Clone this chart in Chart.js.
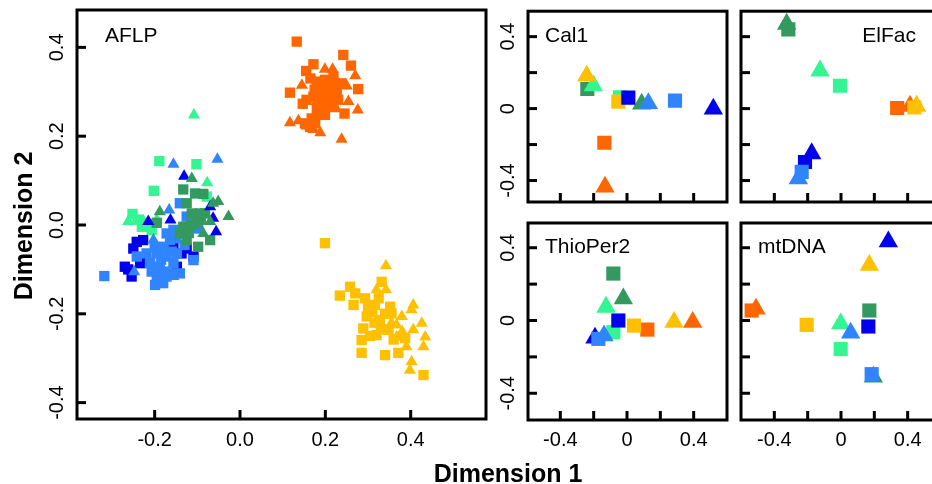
<!DOCTYPE html>
<html><head><meta charset="utf-8">
<script src="https://cdn.jsdelivr.net/npm/chart.js@4.4.0/dist/chart.umd.min.js"></script>
<style>
html,body{margin:0;padding:0;background:#fff;width:932px;height:484px;overflow:hidden;position:relative;}
canvas{position:absolute;left:0;top:0;}
</style></head><body>
<canvas id="cAFLP" width="960" height="484"></canvas>
<canvas id="cCal1" width="960" height="484"></canvas>
<canvas id="cElFac" width="960" height="484"></canvas>
<canvas id="cThio" width="960" height="484"></canvas>
<canvas id="cMt" width="960" height="484"></canvas>
<script>
// ---------- series (population x marker) ----------
const seriesKeys   = ['orangeSq','orangeTri','goldSq','goldTri','ltGreenSq','ltGreenTri','dkGreenSq','dkGreenTri','blueSq','blueTri','dodgerSq','dodgerTri'];
const seriesColors = ['#FF6600','#FF6600','#FFC000','#FFC000','#33F591','#33F591','#33995F','#33995F','#0000EE','#0000EE','#3085FF','#3085FF'];
const seriesShapes = ['rect','triangle','rect','triangle','rect','triangle','rect','triangle','rect','triangle','rect','triangle'];

// ---------- AFLP panel values [dim1, dim2] ----------
const aflpOrangeSq = [[0.133,0.413],[0.242,0.383],[0.260,0.359],[0.172,0.362],[0.155,0.347],[0.117,0.298],[0.277,0.306],[0.147,0.273],[0.245,0.251],[0.188,0.248],[0.164,0.221],[0.152,0.229],[0.180,0.323],[0.199,0.327],[0.219,0.319],[0.207,0.308],[0.227,0.300],[0.188,0.300],[0.172,0.289],[0.211,0.285],[0.230,0.282],[0.195,0.274],[0.219,0.267],[0.180,0.259],[0.199,0.248],[0.168,0.240],[0.238,0.319],[0.219,0.334],[0.156,0.282],[0.176,0.229],[0.205,0.290],[0.192,0.315],[0.200,0.300],[0.213,0.305],[0.185,0.285],[0.225,0.290],[0.195,0.262],[0.175,0.305],[0.165,0.330],[0.208,0.270]];
const aflpOrangeTri = [[0.199,0.351],[0.217,0.351],[0.145,0.315],[0.270,0.336],[0.250,0.313],[0.254,0.278],[0.276,0.259],[0.117,0.230],[0.137,0.235],[0.156,0.223],[0.188,0.208],[0.238,0.193],[0.180,0.278],[0.172,0.215],[0.225,0.262]];
const aflpGoldSq = [[0.199,-0.041],[0.332,-0.128],[0.258,-0.139],[0.234,-0.159],[0.270,-0.154],[0.293,-0.165],[0.266,-0.180],[0.316,-0.180],[0.352,-0.184],[0.297,-0.206],[0.328,-0.214],[0.289,-0.233],[0.320,-0.248],[0.348,-0.236],[0.285,-0.259],[0.285,-0.288],[0.340,-0.293],[0.371,-0.288],[0.430,-0.338],[0.387,-0.255],[0.355,-0.199],[0.310,-0.196],[0.305,-0.250],[0.360,-0.258],[0.330,-0.235],[0.315,-0.220],[0.300,-0.185],[0.340,-0.200],[0.325,-0.165]];
const aflpGoldTri = [[0.342,-0.092],[0.320,-0.146],[0.342,-0.146],[0.406,-0.180],[0.402,-0.191],[0.379,-0.206],[0.426,-0.221],[0.367,-0.225],[0.406,-0.236],[0.434,-0.252],[0.430,-0.274],[0.390,-0.274],[0.367,-0.252],[0.402,-0.308],[0.398,-0.327],[0.380,-0.240],[0.355,-0.220]];
const aflpLtGreenSq = [[-0.189,0.144],[-0.102,0.137],[-0.202,0.077],[-0.252,0.025],[-0.230,-0.004],[-0.207,-0.011],[-0.078,0.064],[-0.240,0.012],[-0.218,0.002]];
const aflpLtGreenTri = [[-0.108,0.248],[-0.077,0.095],[-0.262,0.008],[-0.227,0.010],[-0.195,0.011]];
const aflpDkGreenSq = [[-0.133,0.080],[-0.105,0.071],[-0.086,0.070],[-0.125,0.049],[-0.094,0.026],[-0.082,0.026],[-0.141,-0.019],[-0.125,-0.034],[-0.098,-0.049],[-0.070,-0.034],[-0.102,0.004],[-0.195,0.005],[-0.113,0.026],[-0.133,-0.004],[-0.115,0.000],[-0.092,0.012],[-0.120,-0.018]];
const aflpDkGreenTri = [[-0.113,0.105],[-0.188,0.030],[-0.051,0.053],[-0.027,0.019],[-0.063,0.049],[-0.070,0.008],[-0.086,-0.019]];
const aflpBlueSq = [[-0.250,-0.053],[-0.270,-0.094],[-0.254,-0.116],[-0.227,-0.034],[-0.242,-0.038],[-0.137,-0.064],[-0.156,-0.041],[-0.109,-0.071],[-0.125,-0.053],[-0.148,-0.094],[-0.234,-0.086],[-0.262,-0.100]];
const aflpBlueTri = [[-0.131,0.110],[-0.215,0.008],[-0.056,-0.015],[-0.070,0.041],[-0.063,0.015],[-0.163,0.011]];
const aflpDodgerSq = [[-0.318,-0.115],[-0.141,0.049],[-0.098,-0.008],[-0.109,-0.079],[-0.211,-0.086],[-0.195,-0.064],[-0.180,-0.049],[-0.164,-0.034],[-0.172,-0.071],[-0.156,-0.086],[-0.188,-0.094],[-0.195,-0.116],[-0.180,-0.131],[-0.199,-0.135],[-0.164,-0.109],[-0.148,-0.064],[-0.219,-0.064],[-0.172,-0.019],[-0.156,-0.011],[-0.125,0.019],[-0.137,-0.019],[-0.242,-0.071],[-0.207,-0.105],[-0.141,-0.109],[-0.172,-0.116],[-0.185,-0.078],[-0.160,-0.060],[-0.200,-0.050],[-0.150,-0.030],[-0.178,-0.105],[-0.130,-0.045]];
const aflpDodgerTri = [[-0.156,0.137],[-0.053,0.148],[-0.166,0.034],[-0.248,-0.105],[-0.203,-0.034],[-0.156,-0.116]];

// ---------- single-locus panels: one point per series, order = seriesKeys ----------
const cal1X  = [-0.136,-0.132,-0.052,-0.242,-0.042,-0.202,-0.238, 0.088, 0.008, 0.518, 0.288, 0.128];
const cal1Y  = [-0.190,-0.435, 0.039, 0.182, 0.063, 0.127, 0.109, 0.026, 0.061,-0.002, 0.044, 0.029];
const elfacX = [ 0.337, 0.414, 0.440, 0.454,-0.006,-0.126,-0.316,-0.326,-0.216,-0.176,-0.236,-0.256];
const elfacY = [ 0.003, 0.014, 0.006, 0.014, 0.127, 0.210, 0.440, 0.470,-0.297,-0.250,-0.352,-0.389];
const thioX  = [ 0.122, 0.394, 0.042, 0.282,-0.082,-0.126,-0.082,-0.022,-0.052,-0.192,-0.172,-0.138];
const thioY  = [-0.050,-0.009,-0.028,-0.009,-0.064, 0.074, 0.258, 0.120, 0.000,-0.096,-0.101,-0.083];
const mtX    = [-0.536,-0.510,-0.206, 0.170,-0.002,-0.002, 0.170, 0.194, 0.164, 0.284, 0.184, 0.058];
const mtY    = [ 0.055, 0.064,-0.024, 0.304,-0.157,-0.018, 0.055,-0.310,-0.033, 0.433,-0.295,-0.068];

// ---------- ticks ----------
const mainXTicks = [-0.2,0.0,0.2,0.4];
const mainXLabels = ['-0.2','0.0','0.2','0.4'];
const mainYTicks = [0.4,0.2,0.0,-0.2,-0.4];
const mainYLabels = ['0.4','0.2','0.0','-0.2','-0.4'];
const smallTicks = [-0.4,-0.2,0,0.2,0.4];
const smallLabelVals = [-0.4,0,0.4];
const smallLabels = ['-0.4','0','0.4'];

// drawing order, bottom to top
const smallDrawOrder = ['dkGreenSq','dkGreenTri','ltGreenSq','ltGreenTri','orangeSq','orangeTri','goldSq','goldTri','blueSq','blueTri','dodgerSq','dodgerTri'];
const mainDrawOrder  = ['ltGreenSq','ltGreenTri','blueSq','dodgerSq','dkGreenSq','blueTri','dodgerTri','dkGreenTri','orangeSq','orangeTri','goldSq','goldTri'];

const FONT = '"Liberation Sans", Arial, Helvetica, sans-serif';
const CW = 960, CH = 484;

function frame(cfg){
  return {
    id:'frame',
    afterDraw(chart){
      const ctx = chart.ctx, a = chart.chartArea, xs = chart.scales.x, ys = chart.scales.y;
      ctx.save();
      ctx.strokeStyle = '#000'; ctx.lineWidth = 3; ctx.lineCap = 'butt';
      ctx.strokeRect(a.left, a.top, a.right - a.left, a.bottom - a.top);
      cfg.xTicks.forEach(v => { const p = xs.getPixelForValue(v); ctx.beginPath(); ctx.moveTo(p, a.bottom); ctx.lineTo(p, a.bottom - 9); ctx.stroke(); });
      cfg.yTicks.forEach(v => { const p = ys.getPixelForValue(v); ctx.beginPath(); ctx.moveTo(a.left, p); ctx.lineTo(a.left + 9, p); ctx.stroke(); });
      ctx.fillStyle = '#000';
      ctx.font = '20px ' + FONT;
      if (cfg.xLabels) {
        ctx.textAlign = 'center'; ctx.textBaseline = 'middle';
        cfg.xLabelVals.forEach((v,i) => ctx.fillText(cfg.xLabels[i], xs.getPixelForValue(v), 440));
      }
      if (cfg.yLabels) {
        cfg.yLabelVals.forEach((v,i) => {
          ctx.save(); ctx.translate(a.left - 20, ys.getPixelForValue(v)); ctx.rotate(-Math.PI/2);
          ctx.textAlign = 'center'; ctx.textBaseline = 'middle';
          ctx.fillText(cfg.yLabels[i], 0, 0); ctx.restore();
        });
      }
      ctx.font = '21px ' + FONT; ctx.textBaseline = 'alphabetic';
      ctx.textAlign = cfg.titleAlign || 'left';
      ctx.fillText(cfg.title, cfg.titleX, cfg.titleY);
      if (cfg.extra) cfg.extra(ctx);
      ctx.restore();
    }
  };
}

function makeDatasets(pointsByKey, order, rSq, rTri){
  return order.slice().reverse().map((k, idx) => {
    const i = seriesKeys.indexOf(k);
    return {
      label: k,
      data: pointsByKey[k].map(p => ({x:p[0], y:p[1]})),
      pointStyle: seriesShapes[i],
      pointRadius: seriesShapes[i] === 'rect' ? rSq : rTri,
      backgroundColor: seriesColors[i],
      borderWidth: 0,
      borderColor: seriesColors[i],
      clip: {left:0, top:0, right:0, bottom:0}
    };
  });
}

function makePanel(id, box, xr, yr, datasets, cfg){
  new Chart(document.getElementById(id), {
    type: 'scatter',
    data: { datasets },
    options: {
      responsive: false, animation: false, devicePixelRatio: 1,
      events: [],
      layout: { padding: { left: box[0], top: box[1], right: CW - box[2], bottom: CH - box[3] } },
      scales: {
        x: { type:'linear', min: xr[0], max: xr[1], display: false },
        y: { type:'linear', min: yr[0], max: yr[1], display: false }
      },
      plugins: { legend: { display:false }, tooltip: { enabled:false } }
    },
    plugins: [frame(cfg)]
  });
}

// AFLP
const aflpPts = {orangeSq:aflpOrangeSq, orangeTri:aflpOrangeTri, goldSq:aflpGoldSq, goldTri:aflpGoldTri,
  ltGreenSq:aflpLtGreenSq, ltGreenTri:aflpLtGreenTri, dkGreenSq:aflpDkGreenSq, dkGreenTri:aflpDkGreenTri,
  blueSq:aflpBlueSq, blueTri:aflpBlueTri, dodgerSq:aflpDodgerSq, dodgerTri:aflpDodgerTri};
makePanel('cAFLP', [77,10,486,419], [-0.382,0.5765], [-0.4369,0.4842],
  makeDatasets(aflpPts, mainDrawOrder, 7.3, 7.0),
  { xTicks: mainXTicks, yTicks: mainYTicks, xLabels: mainXLabels, xLabelVals: mainXTicks,
    yLabels: mainYLabels, yLabelVals: mainYTicks, title:'AFLP', titleX:105, titleY:42,
    extra(ctx){
      ctx.font = 'bold 25px ' + FONT; ctx.textAlign = 'center'; ctx.textBaseline = 'alphabetic';
      ctx.fillText('Dimension 1', 508, 482);
      ctx.save(); ctx.translate(32, 226); ctx.rotate(-Math.PI/2); ctx.fillText('Dimension 2', 0, 0); ctx.restore();
    } });

function smallPts(X, Y){ const o = {}; seriesKeys.forEach((k,i) => o[k] = [[X[i], Y[i]]]); return o; }

const smallYTop = [-0.5193, 0.5414], smallYBot = [-0.547, 0.536];
makePanel('cCal1', [528,10,727,202], [-0.594,0.6], smallYTop,
  makeDatasets(smallPts(cal1X, cal1Y), smallDrawOrder, 10, 11.2),
  { xTicks: smallTicks, yTicks: smallTicks, yLabels: smallLabels, yLabelVals: smallLabelVals,
    title:'Cal1', titleX:545, titleY:42 });
makePanel('cElFac', [741,10,940,202], [-0.6,0.594], smallYTop,
  makeDatasets(smallPts(elfacX, elfacY), smallDrawOrder, 10, 11.2),
  { xTicks: smallTicks, yTicks: smallTicks, title:'ElFac', titleX:916, titleY:42, titleAlign:'right' });
makePanel('cThio', [528,223,727,420], [-0.594,0.6], smallYBot,
  makeDatasets(smallPts(thioX, thioY), smallDrawOrder, 10, 11.2),
  { xTicks: smallTicks, yTicks: smallTicks, xLabels: smallLabels, xLabelVals: smallLabelVals,
    yLabels: smallLabels, yLabelVals: smallLabelVals, title:'ThioPer2', titleX:545, titleY:253 });
makePanel('cMt', [741,223,940,420], [-0.6,0.594], smallYBot,
  makeDatasets(smallPts(mtX, mtY), smallDrawOrder, 10, 11.2),
  { xTicks: smallTicks, yTicks: smallTicks, xLabels: smallLabels, xLabelVals: smallLabelVals,
    title:'mtDNA', titleX:758, titleY:253 });
</script>
</body></html>
